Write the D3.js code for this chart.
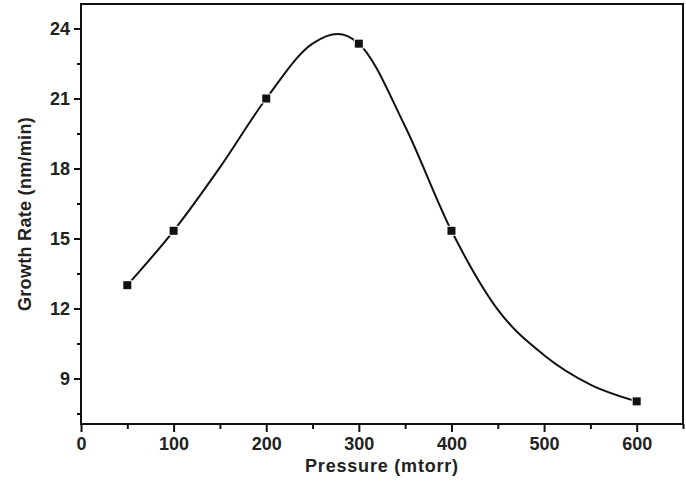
<!DOCTYPE html>
<html><head><meta charset="utf-8">
<script src="https://cdn.jsdelivr.net/npm/d3@7"></script>
<style>body{margin:0;background:#fff}svg{display:block}</style>
</head><body>
<script>
// measured points
const pressure = [50, 100, 200, 300, 400, 600];
const growthRate = [13.0, 15.33, 21.0, 23.35, 15.33, 8.02];
// smooth fitted curve
const curvePressure = [50, 100, 150, 200, 250, 277, 300, 350, 400, 450, 500, 550, 600];
const curveRate = [13.0, 15.33, 18.05, 21.0, 23.35, 23.76, 23.35, 19.8, 15.33, 11.95, 10.0, 8.74, 8.02];
const xMajorTicks = [0, 100, 200, 300, 400, 500, 600];
const xMinorTicks = [50, 150, 250, 350, 450, 550, 650];
const yMajorTicks = [9, 12, 15, 18, 21, 24];
const yMinorTicks = [7.5, 10.5, 13.5, 16.5, 19.5, 22.5];
const xTitle = "Pressure (mtorr)";
const yTitle = "Growth Rate (nm/min)";

const W = 686, H = 490;
const m = {left: 81, right: 3, top: 4, bottom: 66};
const svg = d3.select("body").append("svg").attr("width", W).attr("height", H);
const x = d3.scaleLinear().domain([0, 650]).range([m.left, W - m.right]);
const y = d3.scaleLinear().domain([7.05, 25.05]).range([H - m.bottom, m.top]);
const font = "'Liberation Sans', Arial, sans-serif";

svg.append("rect").attr("x", x(0)).attr("y", y(25.05)).attr("width", x(650) - x(0)).attr("height", y(7.05) - y(25.05))
  .attr("fill", "none").attr("stroke", "#111").attr("stroke-width", 2);

const xAx = svg.append("g").attr("transform", `translate(0,${y(7.05)})`)
  .call(d3.axisBottom(x).tickValues(xMajorTicks).tickSize(8).tickPadding(5).tickFormat(d3.format("d")));
const xAxMinor = svg.append("g").attr("transform", `translate(0,${y(7.05)})`)
  .call(d3.axisBottom(x).tickValues(xMinorTicks).tickSize(5).tickFormat(""));
const yAx = svg.append("g").attr("transform", `translate(${x(0)},0)`)
  .call(d3.axisLeft(y).tickValues(yMajorTicks).tickSize(7).tickPadding(4).tickFormat(d3.format("d")));
const yAxMinor = svg.append("g").attr("transform", `translate(${x(0)},0)`)
  .call(d3.axisLeft(y).tickValues(yMinorTicks).tickSize(4).tickFormat(""));
[xAx, xAxMinor, yAx, yAxMinor].forEach(g => {
  g.select(".domain").remove();
  g.selectAll("line").attr("stroke", "#111").attr("stroke-width", 2);
  g.selectAll("text").attr("font-family", font).attr("font-weight", "bold").attr("font-size", 18).attr("fill", "#222");
});

svg.append("text").attr("x", (x(0) + x(650)) / 2).attr("y", 472).attr("text-anchor", "middle")
  .attr("font-family", font).attr("font-weight", "bold").attr("font-size", 18).attr("fill", "#222")
  .attr("letter-spacing", 0.8).text(xTitle);
svg.append("text").attr("transform", `translate(31,${(y(7.05) + y(25.05)) / 2}) rotate(-90)`).attr("text-anchor", "middle")
  .attr("font-family", font).attr("font-weight", "bold").attr("font-size", 18).attr("fill", "#222")
  .attr("letter-spacing", 0.3).text(yTitle);

const curveData = curvePressure.map((p, i) => [p, curveRate[i]]);
svg.append("path").datum(curveData)
  .attr("d", d3.line().x(d => x(d[0])).y(d => y(d[1])).curve(d3.curveMonotoneX))
  .attr("fill", "none").attr("stroke", "#111").attr("stroke-width", 2);

const data = pressure.map((p, i) => [p, growthRate[i]]);
svg.selectAll(".pt").data(data).join("rect").attr("class", "pt")
  .attr("x", d => x(d[0]) - 4).attr("y", d => y(d[1]) - 4).attr("width", 8).attr("height", 8)
  .attr("fill", "#111").attr("stroke", "#fff").attr("stroke-width", 2).attr("paint-order", "stroke");
</script>
</body></html>
